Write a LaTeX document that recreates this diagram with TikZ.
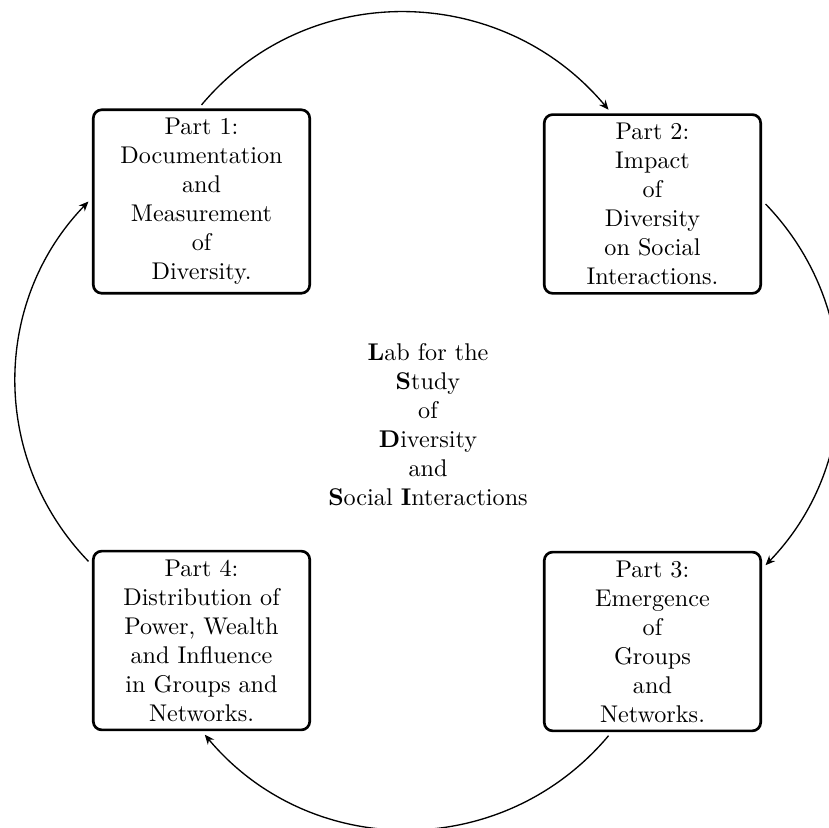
\documentclass[tikz,border=0pt]{standalone}
\usepackage{tikz}
\usetikzlibrary{arrows.meta,positioning}

\tikzset{
    part/.style={draw, line width=1.1pt, rounded corners=3.5pt, align=center, text width=2.9cm, inner sep=3.5pt, outer sep=2pt},
    link/.style={-{Stealth[length=4pt,width=3.4pt]}, line width=0.55pt, looseness=#1},
    link/.default=1
}

\begin{document}
\begin{tikzpicture}
    % Frame
    \useasboundingbox (0,0) rectangle (12.05,-12.035);

    % Parts
    \node[part] (p1) at (2.929,-2.929) {Part 1:\\ Documentation\\ and\\ Measurement\\ of\\ Diversity.};
    \node[part] (p2) at (9.484,-2.965) {Part 2:\\ Impact\\ of\\ Diversity\\ on Social\\ Interactions.};
    \node[part] (p3) at (9.484,-9.324) {Part 3:\\ Emergence\\ of\\ Groups\\ and\\ Networks.};
    \node[part] (p4) at (2.929,-9.310) {Part 4:\\ Distribution of\\ Power, Wealth\\ and Influence\\ in Groups and\\ Networks.};

    % Lab name
    \node[align=center] (lab) at (6.221,-6.177) {\textbf{L}ab for the\\ \textbf{S}tudy\\ of\\ \textbf{D}iversity\\ and\\ \textbf{S}ocial \textbf{I}nteractions};

    % Cycle
    \foreach \from/\to/\o/\i/\l in {p1.north/p2.115/50/130/1.04, p2.east/p3.34/-46/46/1.0, p3.245/p4.272/-130/-50/1.04, p4.145/p1.west/134/-134/1.0}
        \draw[link=\l] (\from) to[out=\o, in=\i] (\to);
\end{tikzpicture}
\end{document}
